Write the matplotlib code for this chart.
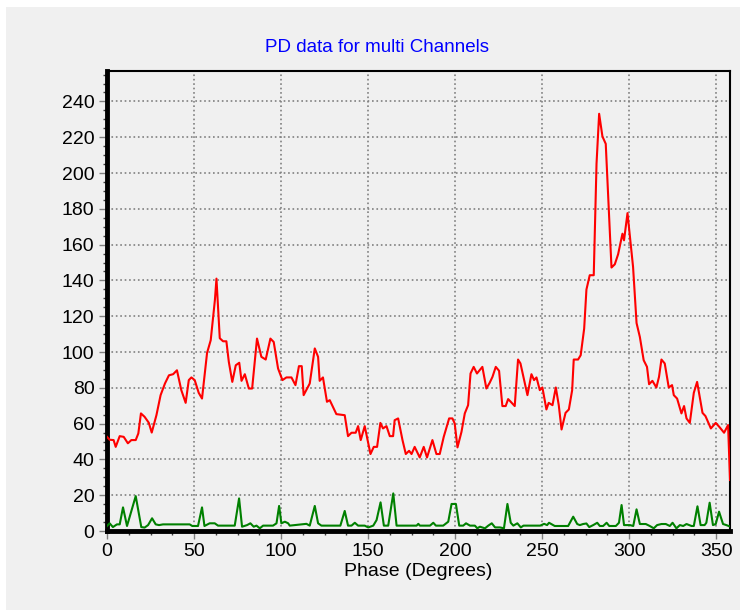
import numpy as np
import matplotlib
matplotlib.use("Agg")
import matplotlib.pyplot as plt
from matplotlib.patches import Rectangle
from matplotlib.ticker import MultipleLocator

# red channel (phase in degrees, value)
red_phase = [0, 1.5, 3.8, 5, 7.3, 9.6, 12, 14, 16.5, 18, 19.5, 21.6, 24, 25.7, 28.4, 30.8,
             33.3, 35.6, 38, 40.2, 42.7, 45.2, 47, 48.5, 50.4, 52.7, 54.6, 57.5, 59.6, 62,
             62.9, 64.8, 66.7, 68.6, 70, 72, 74, 76, 77.3, 79.2, 81.5, 83.4, 86.2, 88.7,
             91.2, 93.9, 95.8, 98.3, 100.8, 103.1, 106, 108.3, 110.3, 111.9, 113, 116.5,
             119.4, 121.3, 122.2, 124.1, 126.4, 128, 131.8, 136.6, 138.5, 140.5, 142.9,
             144.3, 145.8, 148.1, 151.4, 153.3, 155.2, 157.1, 158.6, 160.6, 162.5, 164.4,
             165.3, 167.3, 169.8, 171.7, 173.6, 175, 176.8, 179.7, 182, 183.9, 187, 189.3,
             191.2, 193.5, 196.6, 198.5, 199.8, 201.4, 203.7, 205.6, 207.5, 208.9, 210.7,
             212.6, 215.7, 218, 219.9, 221.5, 223.4, 225.3, 227.2, 229.1, 230.5, 232,
             234.3, 236.2, 237.6, 241.6, 243.9, 245.4, 246.8, 248.7, 250.2, 252.5, 253.8,
             256, 257.9, 259.6, 261.2, 263.5, 265.4, 267.3, 268.2, 270.7, 272.2, 274.2,
             275.5, 277.4, 279.7, 281.3, 282.8, 284.7, 286.6, 289.9, 291.8, 293.7, 296.2,
             297.1, 299.1, 302.3, 304.3, 306.2, 308.4, 310.3, 311.5, 313.4, 315.7, 317.2,
             318.6, 320.5, 322.8, 324.7, 325.7, 327.6, 330.1, 331.6, 333, 334.9, 337.2,
             339.1, 342.2, 343.9, 347, 349.8, 352.1, 354.6, 356.9, 358]
red_value = [52.6, 51, 50.8, 47, 53, 52.6, 49, 50.8, 50.8, 54.5, 65.7, 63.8, 60.5, 55, 64.7,
             75.9, 82.4, 87, 87.6, 89.8, 78.7, 71.6, 84.3, 85.8, 84.3, 77.2, 74, 99.5, 106.6,
             129, 141, 107.7, 106, 106, 94.5, 83.3, 92.6, 94, 83.9, 87.6, 79.6, 79.6, 107.5,
             97.3, 95.8, 107.5, 105.6, 90.8, 84.3, 85.8, 85.8, 81.5, 92.1, 92.1, 75.9, 82.4,
             102, 97.3, 83.9, 85.8, 72.2, 73.1, 65.3, 64.7, 53, 54.9, 54.9, 58.6, 50.8, 58.6,
             43, 47, 47, 60.4, 57.3, 58.6, 53, 53, 61.9, 62.9, 50.8, 43, 44.8, 43, 47, 41.1,
             47, 41.1, 50.8, 43, 43, 52.6, 62.9, 62.9, 60.1, 46.7, 55.4, 65.7, 70.3, 88,
             91.7, 88, 91.7, 79.6, 82.8, 86.1, 91.7, 89.5, 69.8, 69.8, 73.7, 72.2, 69.8,
             95.8, 93.6, 75.9, 87.6, 84.3, 85.8, 78.7, 80.2, 67.9, 71.6, 70.3, 80.2, 70.3,
             56.7, 66, 67.9, 78.7, 95.8, 95.8, 98.2, 113.1, 134.9, 142.9, 142.9, 205.2,
             233.1, 220.4, 216.3, 147.2, 149, 154.6, 166.1, 162.4, 177.6, 147.5, 116.2,
             108.4, 95.4, 91.7, 82, 83.9, 80.2, 86.1, 95.8, 93.6, 80.2, 81.5, 75.9, 74,
             65.7, 69.8, 62.9, 60.4, 77.2, 83.3, 66, 64.2, 57.3, 60.4, 57.9, 54.9, 59.2, 28.5]

# green channel
green_phase = [0, 1.5, 3.4, 5.7, 7.3, 9.2, 11.5, 16.5, 19.7, 21.6, 23.6, 25.9, 28, 29.9,
               32.2, 47.5, 49, 52.3, 54.6, 56, 59, 61.9, 63.8, 73.4, 75.9, 77.6, 80.5,
               82.4, 84.3, 85.9, 87.8, 89.7, 95.4, 97.4, 98.9, 100.2, 102.2, 104.1, 105,
               114.6, 116.5, 119.4, 121.3, 123.2, 134.1, 136.6, 138.5, 140.5, 142.4,
               144.3, 148.1, 150.1, 153, 154.9, 157.2, 159.1, 161.6, 164.5, 166.4, 177.9,
               178.9, 179.8, 185.6, 187.5, 189, 193.2, 196.1, 198, 200.5, 202.4, 204.7,
               206.3, 208.6, 211.4, 212.8, 214.3, 217.2, 219.1, 221.1, 223, 225.8, 228.1,
               230.1, 232, 233.5, 235.8, 237.8, 239.3, 248.9, 251.2, 252.9, 254, 257.3,
               265, 267.9, 270.2, 271.7, 273.6, 275.5, 277.1, 279.4, 281.7, 283.2, 285.1,
               287.1, 288.6, 292.4, 294.2, 295.7, 297.1, 300.5, 302.4, 304.3, 306.2,
               309.6, 311.9, 314.2, 316.1, 318.6, 321.1, 323.4, 325, 327.2, 329.2, 331.1,
               333, 335.9, 337.2, 339.3, 341.1, 343.4, 344.4, 346.3, 348.2, 349.8, 351.7,
               354, 355.9, 358]
green_value = [2.8, 4.3, 2.2, 3.7, 3.7, 13.2, 2.8, 19.5, 2.2, 1.9, 3.3, 7.1, 3.7, 3.3,
               3.7, 3.7, 2.8, 2.8, 13.2, 2.8, 4.3, 4.3, 3, 3, 18.2, 2.4, 3.3, 4.3, 2.4, 3,
               1.5, 3, 3, 4.3, 14, 4.3, 5.2, 4.3, 3, 4, 3, 14, 4.3, 3, 3, 11.2, 3, 3, 4.6,
               3, 3, 2, 3, 6.1, 16, 3, 3, 21, 3, 3, 4, 3, 3, 4.6, 3, 3, 5.2, 15.1, 15.1, 3,
               3, 4.3, 3, 3, 1.5, 2.4, 1.5, 3, 4.3, 2, 2, 1.5, 15.1, 4.6, 3, 4.3, 2, 3, 3,
               4, 3.3, 4.6, 2.8, 2.8, 8, 3.9, 3.3, 3.9, 4.2, 2.2, 3.3, 4.6, 2.8, 2.8, 4.6,
               2.8, 2.8, 4.6, 14.5, 3.3, 3.3, 2.8, 12.1, 3.9, 3.9, 2.8, 1.5, 3.3, 3.9, 3.9,
               2.8, 4.6, 1.5, 3.3, 2.8, 3.9, 2.8, 2.8, 13.8, 3.3, 3.3, 4.6, 15.8, 3.3, 3.9,
               10.8, 3.9, 3.3, 2.5]

title = "PD data for multi Channels"
x_label = "Phase (Degrees)"
x_ticks = [0, 50, 100, 150, 200, 250, 300, 350]
y_ticks = [0, 20, 40, 60, 80, 100, 120, 140, 160, 180, 200, 220, 240]

plt.rcParams['font.family'] = ['Liberation Sans', 'DejaVu Sans']
bg = "#f0f0f0"

fig = plt.figure(figsize=(7.4, 6.1), dpi=100, facecolor="white")
# grey panel with thin white strip at top and left
fig.patches.append(Rectangle((6/740, 0), 1, 1 - 7/610, transform=fig.transFigure,
                             facecolor=bg, edgecolor="none", zorder=-10))

ax = fig.add_axes([107/740, 1 - 531/610, 623/740, 460/610])
ax.set_facecolor(bg)

ax.plot(red_phase, red_value, color="#ff0000", linewidth=1.5, zorder=3)
ax.plot(green_phase, green_value, color="#008000", linewidth=1.5, zorder=3)

ax.set_xlim(0, 358)
ax.set_ylim(0, 257)
ax.set_xticks(x_ticks)
ax.set_yticks(y_ticks)
ax.xaxis.set_minor_locator(MultipleLocator(12.5))
ax.yaxis.set_minor_locator(MultipleLocator(5))
ax.tick_params(which="major", direction="out", length=6, width=1, color="#808080",
               labelsize=14, pad=3)
ax.tick_params(which="minor", direction="out", length=3, width=1, color="#404040")
ax.grid(True, which="major", linestyle=":", color="#808080", linewidth=1.2)

for side in ["left", "bottom"]:
    ax.spines[side].set_linewidth(3.5)
for side in ["top", "right"]:
    ax.spines[side].set_linewidth(1.5)

ax.set_xlabel(x_label, fontsize=14, labelpad=2)
fig.text(377/740, 1 - 47/610, title, color="#0000ff", fontsize=13.5,
         ha="center", va="center")

fig.savefig("out.png", dpi=100, facecolor=fig.get_facecolor())
